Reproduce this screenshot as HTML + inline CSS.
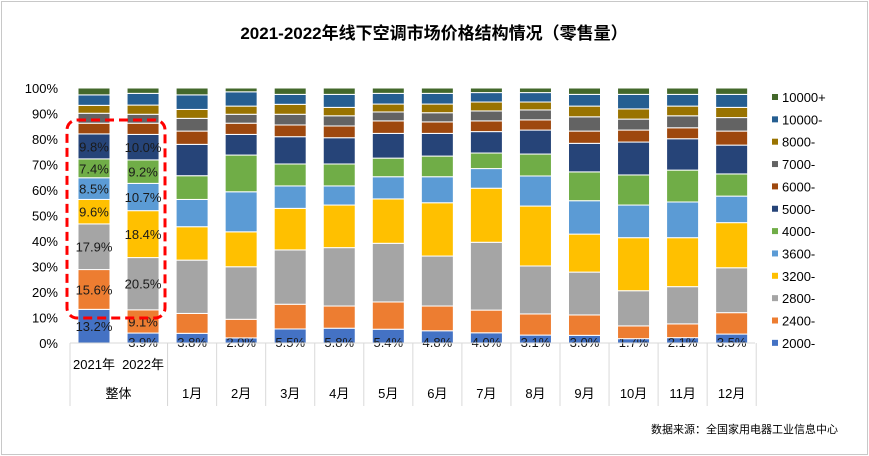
<!DOCTYPE html>
<html><head><meta charset="utf-8"><style>
html,body{margin:0;padding:0;background:#fff}
svg{display:block;font-family:"Liberation Sans","Noto Sans CJK SC",sans-serif}
</style></head><body>
<svg id="chart" width="869" height="456" xmlns="http://www.w3.org/2000/svg">
<rect x="1.5" y="1.5" width="866" height="453" fill="#fff" stroke="#c8c8c8"/>
<text x="434" y="39" text-anchor="middle" font-size="17" font-weight="bold" fill="#000">2021-2022年线下空调市场价格结构情况（零售量）</text>
<g id="yaxis"></g><g id="bars"></g><g id="xaxis"></g><g id="legend"></g>
<rect x="67" y="120" width="98" height="198" rx="10" fill="none" stroke="#ff0000" stroke-width="3" stroke-dasharray="9,5"/>
<text x="838" y="433" text-anchor="end" font-size="11" fill="#000">数据来源：全国家用电器工业信息中心</text>
</svg>
<script>
const categories=["2021年","2022年","1月","2月","3月","4月","5月","6月","7月","8月","9月","10月","11月","12月"];
const seriesNames=["2000-","2400-","2800-","3200-","3600-","4000-","5000-","6000-","7000-","8000-","10000-","10000+"];
const seriesColors=["#4472C4","#ED7D31","#A5A5A5","#FFC000","#5B9BD5","#70AD47","#264478","#9E480E","#636363","#997300","#255E91","#43682B"];
const s2000=[13.2,3.9,3.8,2.0,5.5,5.8,5.4,4.8,4.0,3.1,3.0,1.7,2.1,3.5];
const s2400=[15.6,9.1,7.8,7.3,9.7,8.7,10.7,9.7,8.9,8.3,8.0,5.0,5.4,8.4];
const s2800=[17.9,20.5,20.9,20.6,21.3,22.9,23.0,19.6,26.6,18.8,16.8,13.8,14.6,17.6];
const s3200=[9.6,18.4,13.1,13.7,16.3,16.7,17.4,20.9,21.2,23.5,14.9,20.8,19.2,17.7];
const s3600=[8.5,10.7,10.7,15.7,8.8,7.5,8.7,10.2,7.7,11.8,13.1,12.8,14.0,10.4];
const s4000=[7.4,9.2,9.3,14.4,8.6,8.6,7.3,8.1,6.1,8.6,11.3,11.8,12.5,8.7];
const s5000=[9.8,10.0,12.3,8.1,10.7,10.3,9.7,8.9,8.4,9.4,11.2,12.9,12.3,11.3];
const s6000=[4.2,4.4,5.2,4.4,4.6,4.6,4.9,4.5,4.2,4.0,4.8,4.7,4.3,5.5];
const s7000=[3.9,3.5,5.0,3.5,4.2,4.0,3.5,3.6,3.9,3.9,5.6,4.3,4.7,5.3];
const s8000=[3.1,3.6,3.5,3.2,3.9,3.3,3.1,3.4,3.5,3.1,4.2,4.0,3.8,4.0];
const s10000m=[4.1,4.6,5.7,5.6,3.9,5.1,4.2,4.2,3.7,3.7,4.6,5.7,4.6,5.1];
const s10000p=[2.7,2.1,2.7,1.5,2.5,2.5,2.1,2.1,1.8,1.8,2.5,2.5,2.5,2.5];
const yTicks=[0,10,20,30,40,50,60,70,80,90,100];
const series=[s2000,s2400,s2800,s3200,s3600,s4000,s5000,s6000,s7000,s8000,s10000m,s10000p];

const NS="http://www.w3.org/2000/svg";
const y0=343,y1=88,barW=32;
function yScale(v){return y0-(y0-y1)*v/100;}
function xCenter(i){return 94+i*49.05;}
function mk(tag,attrs,parent,txt){const e=document.createElementNS(NS,tag);for(const k in attrs)e.setAttribute(k,attrs[k]);if(txt!==undefined)e.textContent=txt;parent.appendChild(e);return e;}

const yg=document.getElementById('yaxis');
yTicks.forEach(t=>{
  const e=mk('text',{x:58,y:yScale(t)+5,'text-anchor':'end','font-size':13,fill:'#000'},yg,t+'%');
  
  
});

const bg=document.getElementById('bars');
categories.forEach((c,i)=>{
  const tot=series.reduce((a,s)=>a+s[i],0);
  let cum=0;
  series.forEach((s,k)=>{
    const v=s[i]/tot*100;
    const yt=yScale(cum+v),yb=yScale(cum);
    const r=mk('rect',{x:xCenter(i)-barW/2,y:yt,width:barW,height:yb-yt,fill:seriesColors[k],stroke:'#fff','stroke-width':1},bg);
    
    
    let show=(i<2&&k<7)||(i>=2&&k===0);
    if(show){
      const ly=(i>=2||(i===1&&k===0))?y0+4:(yt+yb)/2+5;
      const t=mk('text',{x:xCenter(i),y:ly,'text-anchor':'middle','font-size':13,fill:'#1a1a1a'},bg,s[i].toFixed(1)+'%');
      
      
    }
    cum+=v;
  });
});

const xg=document.getElementById('xaxis');
mk('line',{x1:70,y1:y0,x2:755,y2:y0,stroke:'#d9d9d9'},xg);
const seps=[70,167.5];
for(let i=2;i<=14;i++)seps.push(xCenter(i)-24.5);
seps.forEach(x=>{const l=mk('line',{x1:x,y1:y0,x2:x,y2:406,stroke:'#d9d9d9'},xg);
  
  });
categories.forEach((c,i)=>{
  const t=mk('text',{x:xCenter(i),y:i<2?369:398,'text-anchor':'middle','font-size':13,fill:'#000'},xg,c);
  
  
});
const gt=mk('text',{x:118.5,y:398,'text-anchor':'middle','font-size':13,fill:'#000'},xg,'整体');



const lg=document.getElementById('legend');
for(let k=11;k>=0;k--){
  const yy=97+(11-k)*22.35;
  const g=mk('g',{},lg);
  
  
  mk('rect',{x:772,y:yy-3,width:6,height:6,fill:seriesColors[k]},g);
  mk('text',{x:782,y:yy+5,'font-size':13,fill:'#000'},g,seriesNames[k]);
}
</script>
</body></html>
